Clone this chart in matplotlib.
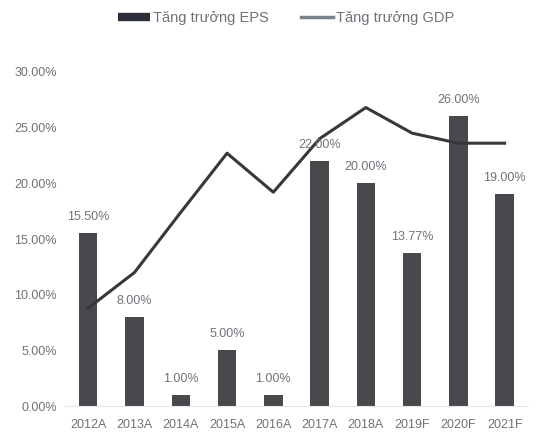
import matplotlib
matplotlib.use("Agg")
import matplotlib.pyplot as plt
from matplotlib.ticker import FuncFormatter
from matplotlib.lines import Line2D

plt.rcParams['font.family'] = ['Liberation Sans', 'DejaVu Sans']

years = ["2012A", "2013A", "2014A", "2015A", "2016A", "2017A", "2018A", "2019F", "2020F", "2021F"]
eps_growth = [0.155, 0.08, 0.01, 0.05, 0.01, 0.22, 0.20, 0.1377, 0.26, 0.19]
gdp_growth = [0.088, 0.120, 0.174, 0.227, 0.192, 0.240, 0.268, 0.245, 0.236, 0.236]
eps_labels = ["15.50%", "8.00%", "1.00%", "5.00%", "1.00%", "22.00%", "20.00%", "13.77%", "26.00%", "19.00%"]

fig = plt.figure(figsize=(5.38, 4.41), dpi=100)
ax = fig.add_axes([0.121, 0.079, 0.860, 0.758])

x = list(range(len(years)))
ax.bar(x, eps_growth, width=0.4, color='#48484d', zorder=2)
ax.plot(x, gdp_growth, color='#38383c', lw=2.2, zorder=3)

for xi, v, lab in zip(x, eps_growth, eps_labels):
    ax.text(xi, v + 0.009, lab, ha='center', va='bottom', fontsize=9, color='#6e737a', zorder=4)

ax.set_xlim(-0.5, 9.5)
ax.set_ylim(0, 0.30)
ax.set_yticks([0, 0.05, 0.10, 0.15, 0.20, 0.25, 0.30])
ax.yaxis.set_major_formatter(FuncFormatter(lambda v, p: f"{v*100:.2f}%"))
ax.set_xticks(x)
ax.set_xticklabels(years)
ax.tick_params(axis='both', length=0, labelsize=9, colors='#6e737a')
ax.tick_params(axis='x', pad=9)
ax.tick_params(axis='y', pad=6)
for s in ['top', 'right', 'left']:
    ax.spines[s].set_visible(False)
ax.spines['bottom'].set_color('#e6e6e6')

handles = [Line2D([0], [0], color='#2c2f3a', lw=6, solid_capstyle='butt'),
           Line2D([0], [0], color='#7c828c', lw=2.5)]
fig.legend(handles, ['Tăng trưởng EPS', 'Tăng trưởng GDP'], loc='center', bbox_to_anchor=(0.532, 0.96),
           ncol=2, frameon=False, fontsize=10.5, labelcolor='#6e737a', handlelength=2.2,
           handletextpad=0.2, columnspacing=2.2)

fig.savefig("out.png", dpi=100, facecolor='white')
